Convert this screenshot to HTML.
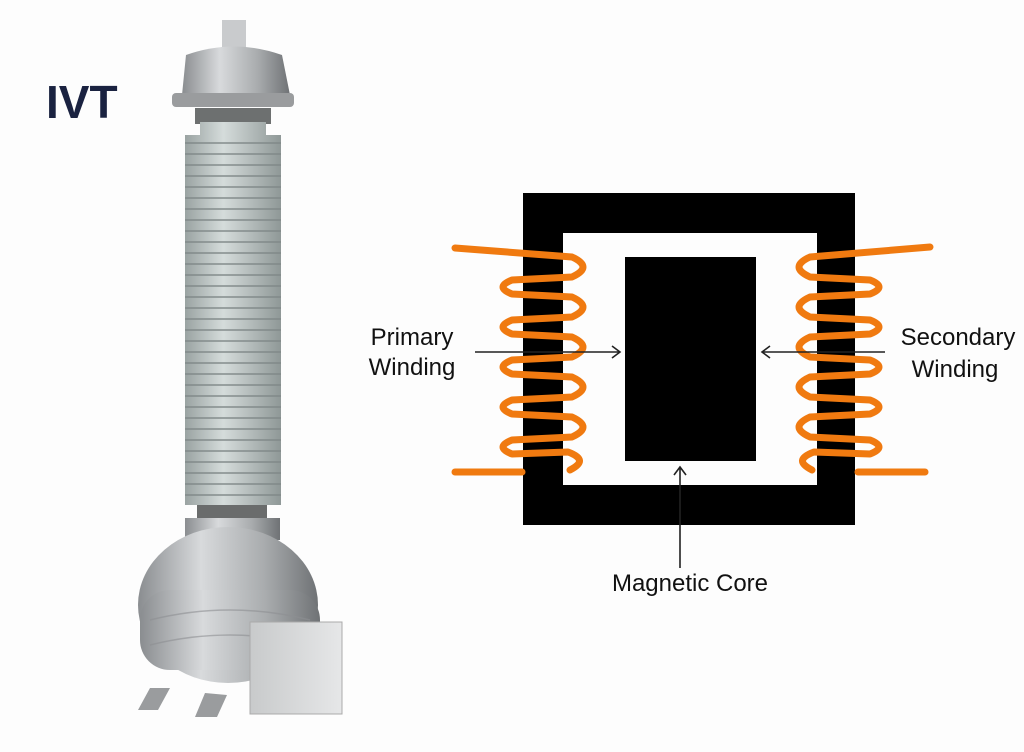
<!DOCTYPE html>
<html><head><style>
body{margin:0;width:1024px;height:747px;background:#fdfdfd;overflow:hidden;font-family:"Liberation Sans",sans-serif}
</style></head><body>
<svg width="1024" height="747" viewBox="0 0 1024 747" xmlns="http://www.w3.org/2000/svg">
<defs>
<linearGradient id="m" x1="0" x2="1"><stop offset="0" stop-color="#8a8d90"/><stop offset=".35" stop-color="#d8dadc"/><stop offset=".7" stop-color="#a9acae"/><stop offset="1" stop-color="#6f7275"/></linearGradient>
<linearGradient id="ins" gradientUnits="userSpaceOnUse" x1="185" x2="281" y1="0" y2="0"><stop offset="0" stop-color="#9aa3a2"/><stop offset=".4" stop-color="#d5dcdb"/><stop offset="1" stop-color="#8f9897"/></linearGradient>
<linearGradient id="box" x1="0" x2="1"><stop offset="0" stop-color="#c8cacb"/><stop offset="1" stop-color="#e6e7e8"/></linearGradient>
<pattern id="ridges" x="0" y="135" width="300" height="11" patternUnits="userSpaceOnUse"><rect y="7" width="300" height="2" fill="#7f8887" opacity=".7"/></pattern>
</defs>
<text x="46" y="118" font-size="46" font-weight="bold" fill="#1a2240" font-family="Liberation Sans,sans-serif">IVT</text>
<!-- device -->
<rect x="222" y="20" width="24" height="28" fill="#c9cbcd"/>
<path d="M182 95 L186 55 Q234 38 282 55 L290 95 Z" fill="url(#m)"/>
<rect x="172" y="93" width="122" height="14" rx="4" fill="#9a9c9e"/>
<rect x="195" y="108" width="76" height="16" fill="#6d7070"/>
<rect x="200" y="122" width="66" height="20" fill="url(#ins)"/>
<rect x="185" y="135" width="96" height="370" fill="url(#ins)"/>
<rect x="185" y="135" width="96" height="370" fill="url(#ridges)"/>
<rect x="197" y="505" width="70" height="16" fill="#6a6c6c"/>
<rect x="185" y="518" width="95" height="22" fill="url(#m)"/>
<ellipse cx="228" cy="605" rx="90" ry="78" fill="url(#m)"/>
<rect x="140" y="590" width="180" height="80" rx="30" fill="url(#m)"/>
<g stroke="#8d9092" stroke-width="1.5" fill="none" opacity=".6"><path d="M150 620 Q230 600 310 620 M150 645 Q230 625 310 645"/></g>
<path d="M150 688 l-12 22 h20 l12 -22z M205 693 l-10 24 h22 l10 -22z" fill="#9a9c9e"/>
<rect x="250" y="622" width="92" height="92" fill="url(#box)" stroke="#aaa"/>
<!-- core -->
<path d="M523 193H855V525H523Z M563 233V485H817V233Z" fill="#000" fill-rule="evenodd"/>
<rect x="625" y="257" width="131" height="204" fill="#000"/>
<g fill="none" stroke="#f07a10" stroke-width="7" stroke-linecap="round" stroke-linejoin="round">
<path d="M455 248 L572 257 Q594 267 572 277 L512 280 Q494 287 512 294 L572 297 Q594 307 572 317 L512 320 Q494 327 512 334 L572 337 Q594 347 572 357 L512 360 Q494 367 512 374 L572 377 Q594 387 572 397 L512 400 Q494 407 512 414 L572 417 Q594 427 572 437 L512 440 Q494 447 512 454 L568 452 Q590 460 570 470"/>
<path d="M455 472 L522 472"/>
<path d="M930 247 L810 257 Q788 267 810 277 L870 280 Q888 287 870 294 L810 297 Q788 307 810 317 L870 320 Q888 327 870 334 L810 337 Q788 347 810 357 L870 360 Q888 367 870 374 L810 377 Q788 387 810 397 L870 400 Q888 407 870 414 L810 417 Q788 427 810 437 L870 440 Q888 447 870 454 L814 452 Q792 460 812 470"/>
<path d="M858 472 L925 472"/>
</g>
<g stroke="#222" stroke-width="1.6" fill="none">
<path d="M475 352H620 M612 346L620 352L612 358"/>
<path d="M885 352H762 M770 346L762 352L770 358"/>
<path d="M680 568V467 M674 475L680 467L686 475"/>
</g>
<g font-size="24" fill="#111" text-anchor="middle" font-family="Liberation Sans,sans-serif">
<text x="412" y="345">Primary</text><text x="412" y="375">Winding</text>
<text x="958" y="345">Secondary</text><text x="955" y="377">Winding</text>
<text x="690" y="591">Magnetic Core</text>
</g>
</svg>
</body></html>
